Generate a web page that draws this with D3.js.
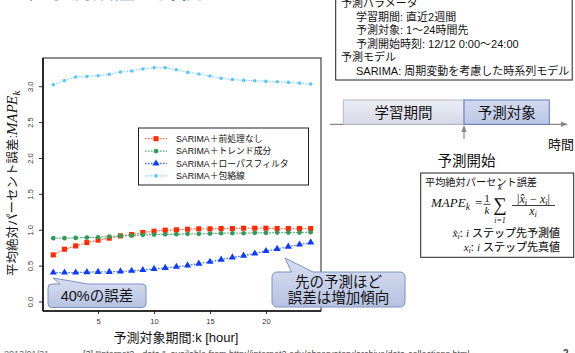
<!DOCTYPE html>
<html>
<head>
<meta charset="utf-8">
<script src="https://cdn.jsdelivr.net/npm/d3@7"></script>
<style>
  html, body { margin: 0; padding: 0; background: #fff; overflow: hidden; }
  svg { display: block; font-family: "Liberation Sans", "Noto Sans CJK JP", sans-serif; }
</style>
</head>
<body>
<svg id="chart" width="575" height="353"></svg>
<script>
// Forecast horizon (hours ahead)
const hours = [1,2,3,4,5,6,7,8,9,10,11,12,13,14,15,16,17,18,19,20,21,22,23,24];

// MAPE_k for each model variant
const noPreprocess = [0.656,0.735,0.781,0.827,0.861,0.889,0.921,0.939,0.967,0.986,1.000,1.005,1.014,1.019,1.019,1.023,1.023,1.028,1.028,1.028,1.023,1.023,1.023,1.023];
const trendComp    = [0.889,0.889,0.893,0.897,0.902,0.911,0.921,0.925,0.935,0.939,0.944,0.944,0.949,0.949,0.953,0.958,0.958,0.958,0.963,0.963,0.967,0.967,0.967,0.972];
const lowPass      = [0.410,0.410,0.410,0.415,0.420,0.420,0.425,0.435,0.445,0.460,0.475,0.490,0.510,0.535,0.560,0.590,0.620,0.645,0.675,0.710,0.740,0.770,0.800,0.830];
const envelope     = [3.028,3.085,3.135,3.143,3.153,3.172,3.205,3.220,3.247,3.265,3.265,3.237,3.200,3.177,3.148,3.118,3.100,3.088,3.083,3.074,3.070,3.060,3.050,3.037];

const seriesNames = ["SARIMA＋前処理なし","SARIMA＋トレンド成分","SARIMA＋ローパスフィルタ","SARIMA＋包絡線"];
const xTicks = [5,10,15,20];
const yTicks = [0.0,0.5,1.0,1.5,2.0,2.5,3.0];

const paramLines = [
  {t:"予測パラメータ", indent:0},
  {t:"学習期間: 直近2週間", indent:1},
  {t:"予測対象: 1〜24時間先", indent:1},
  {t:"予測開始時刻: 12/12 0:00〜24:00", indent:1},
  {t:"予測モデル", indent:0},
  {t:"SARIMA: 周期変動を考慮した時系列モデル", indent:1}
];

const svg = d3.select("#chart");
const defs = svg.append("defs");

const bubbleGrad = defs.append("linearGradient").attr("id","bubbleGrad").attr("x1",0).attr("y1",0).attr("x2",0).attr("y2",1);
bubbleGrad.append("stop").attr("offset","0%").attr("stop-color","#d9dff1");
bubbleGrad.append("stop").attr("offset","100%").attr("stop-color","#b7c2e2");

const learnGrad = defs.append("linearGradient").attr("id","learnGrad").attr("x1",0).attr("y1",0).attr("x2",0).attr("y2",1);
learnGrad.append("stop").attr("offset","0%").attr("stop-color","#eceef5");
learnGrad.append("stop").attr("offset","100%").attr("stop-color","#d6d9e6");

const predGrad = defs.append("linearGradient").attr("id","predGrad").attr("x1",0).attr("y1",0).attr("x2",0).attr("y2",1);
predGrad.append("stop").attr("offset","0%").attr("stop-color","#d3daf0");
predGrad.append("stop").attr("offset","100%").attr("stop-color","#bcc7e6");

defs.append("marker").attr("id","arrowHead").attr("viewBox","0 0 10 10").attr("refX",9).attr("refY",5)
  .attr("markerWidth",6).attr("markerHeight",6).attr("orient","auto-start-reverse")
  .append("path").attr("d","M0,1 L10,5 L0,9 z").attr("fill","#8a8a8a");

// ---- slide title (mostly above the visible area) ----
svg.append("text").attr("x",20).attr("y",-2).attr("font-size",22).attr("fill","#3f5cae")
  .attr("font-weight","bold").text("◆ 予測誤差の評価");

// ---- plot ----
const L = 43, R = 321, T = 58, B = 311;
const x = d3.scaleLinear().domain([0.08, 24.92]).range([L, R]);
const y = d3.scaleLinear().domain([-0.126, 3.40]).range([B, T]);

const series = [
  {name: seriesNames[0], values: noPreprocess, color:"#ff2a00", line:"#ff6a50", symbol:d3.symbolSquare,   size:26},
  {name: seriesNames[1], values: trendComp,    color:"#2f9a5a", line:"#4fae76", symbol:d3.symbolCircle,   size:17},
  {name: seriesNames[2], values: lowPass,      color:"#0a3cff", line:"#4a70ff", symbol:d3.symbolTriangle, size:22},
  {name: seriesNames[3], values: envelope,     color:"#5cc6ff", line:"#8ad6ff", symbol:d3.symbolCircle,   size:10}
];

const plot = svg.append("g");

// axes
const xAxis = d3.axisBottom(x).tickValues(xTicks).tickSize(3).tickFormat(d3.format("d"));
const gx = plot.append("g").attr("transform",`translate(0,${B})`).call(xAxis);
gx.select(".domain").remove();
gx.selectAll("text").attr("font-size",7.5).attr("fill","#333").attr("dy","0.9em");
gx.selectAll("line").attr("stroke","#333");

const yAxis = d3.axisLeft(y).tickValues(yTicks).tickSize(4).tickFormat(d3.format(".1f"));
const gy = plot.append("g").attr("transform",`translate(${L},0)`).call(yAxis);
gy.select(".domain").remove();
gy.selectAll("line").attr("stroke","#333");
gy.selectAll("text").attr("font-size",7.5).attr("fill","#333")
  .attr("x",0).attr("dy",0)
  .attr("text-anchor","middle")
  .attr("transform", d => `translate(-10.5,${y(d)}) rotate(-90)`)
  .attr("y",0);
gy.selectAll(".tick").attr("transform",null);
gy.selectAll(".tick line").attr("transform", d => `translate(0,${y(d)})`);

// frame
plot.append("rect").attr("x",L).attr("y",T).attr("width",R-L).attr("height",B-T)
  .attr("fill","none").attr("stroke","#333").attr("stroke-width",1.1);
plot.append("line").attr("x1",L).attr("x2",L).attr("y1",T).attr("y2",B).attr("stroke","#111").attr("stroke-width",1.6);
plot.append("line").attr("x1",L).attr("x2",R).attr("y1",B).attr("y2",B).attr("stroke","#111").attr("stroke-width",1.6);

// series lines + markers
const lineGen = d3.line().x((d,i) => x(hours[i])).y(d => y(d));
series.forEach(s => {
  plot.append("path").attr("d", lineGen(s.values)).attr("fill","none")
    .attr("stroke", s.line).attr("stroke-width",1.3).attr("stroke-dasharray","1.6,1.4");
  plot.selectAll(null).data(s.values).enter().append("path")
    .attr("d", d3.symbol().type(s.symbol).size(s.size))
    .attr("transform",(d,i) => `translate(${x(hours[i])},${y(d)})`)
    .attr("fill", s.color);
});

// axis titles
svg.append("text").attr("x",176).attr("y",342).attr("text-anchor","middle").attr("font-size",13)
  .attr("fill","#111").text("予測対象期間:k [hour]");

const yt = svg.append("text").attr("transform","translate(17,183) rotate(-90)").attr("text-anchor","middle")
  .attr("font-size",12.5).attr("fill","#111");
yt.append("tspan").text("平均絶対パーセント誤差:");
yt.append("tspan").attr("font-family","'DejaVu Serif','Liberation Serif',serif").attr("font-style","italic").text("MAPE");
yt.append("tspan").attr("font-family","'DejaVu Serif','Liberation Serif',serif").attr("font-style","italic")
  .attr("font-size",9).attr("dy",3).text("k");

// legend
const lg = svg.append("g");
lg.append("rect").attr("x",138.5).attr("y",128).attr("width",170).attr("height",57)
  .attr("fill","#fff").attr("stroke","#222").attr("stroke-width",1);
series.forEach((s,i) => {
  const ly = 138.7 + i*12.4;
  lg.append("line").attr("x1",145).attr("x2",167).attr("y1",ly).attr("y2",ly)
    .attr("stroke", s.line).attr("stroke-width",1.3).attr("stroke-dasharray","1.6,1.4");
  lg.append("path").attr("d", d3.symbol().type(s.symbol).size(s.size)).attr("transform",`translate(156,${ly})`).attr("fill", s.color);
  lg.append("text").attr("x",176).attr("y",ly).attr("dy","0.35em").attr("font-size",8.8).attr("fill","#111").text(s.name);
});

// callout bubbles
function bubblePath(x0,y0,w,h,r,b1,b2,tx,ty){
  const p = d3.path();
  p.moveTo(x0+r,y0);
  p.lineTo(b1,y0); p.lineTo(tx,ty); p.lineTo(b2,y0);
  p.lineTo(x0+w-r,y0); p.arcTo(x0+w,y0,x0+w,y0+r,r);
  p.lineTo(x0+w,y0+h-r); p.arcTo(x0+w,y0+h,x0+w-r,y0+h,r);
  p.lineTo(x0+r,y0+h); p.arcTo(x0,y0+h,x0,y0+h-r,r);
  p.lineTo(x0,y0+r); p.arcTo(x0,y0,x0+r,y0,r);
  p.closePath();
  return p.toString();
}
svg.append("path").attr("d", bubblePath(48,284,98,23.5,4,60,88,53,278))
  .attr("fill","url(#bubbleGrad)").attr("stroke","#7d90c2").attr("stroke-width",1);
svg.append("text").attr("x",97).attr("y",296).attr("dy","0.36em").attr("text-anchor","middle")
  .attr("font-size",14.5).attr("fill","#111").text("40%の誤差");

svg.append("path").attr("d", bubblePath(272,272,133,35,5,291.5,313,285,258))
  .attr("fill","url(#bubbleGrad)").attr("stroke","#7d90c2").attr("stroke-width",1);
svg.append("text").attr("x",338.5).attr("y",281.5).attr("dy","0.36em").attr("text-anchor","middle")
  .attr("font-size",14.5).attr("fill","#111").text("先の予測ほど");
svg.append("text").attr("x",338.5).attr("y",298).attr("dy","0.36em").attr("text-anchor","middle")
  .attr("font-size",14.5).attr("fill","#111").text("誤差は増加傾向");

// ---- parameter box ----
svg.append("rect").attr("x",335.7).attr("y",-6).attr("width",236.5).attr("height",86)
  .attr("fill","#fff").attr("stroke","#222").attr("stroke-width",1);
paramLines.forEach((p,i) => {
  svg.append("text").attr("x", p.indent ? 356 : 341).attr("y", 3 + i*13.6).attr("dy","0.36em")
    .attr("font-size",11).attr("fill","#111").text(p.t);
});

// ---- timeline sketch ----
svg.append("line").attr("x1",330).attr("x2",567).attr("y1",124.3).attr("y2",124.3)
  .attr("stroke","#8a8a8a").attr("stroke-width",1.2).attr("marker-end","url(#arrowHead)");
svg.append("rect").attr("x",343.3).attr("y",100).attr("width",120.7).attr("height",24.3)
  .attr("fill","url(#learnGrad)").attr("stroke","#b3b8cc").attr("stroke-width",1);
svg.append("rect").attr("x",464).attr("y",100).attr("width",85.3).attr("height",24.3)
  .attr("fill","url(#predGrad)").attr("stroke","#5f7bbf").attr("stroke-width",1);
svg.append("text").attr("x",403.5).attr("y",112.5).attr("dy","0.36em").attr("text-anchor","middle")
  .attr("font-size",14.5).attr("fill","#111").text("学習期間");
svg.append("text").attr("x",506.7).attr("y",112.5).attr("dy","0.36em").attr("text-anchor","middle")
  .attr("font-size",14.5).attr("fill","#111").text("予測対象");
svg.append("line").attr("x1",464).attr("x2",464).attr("y1",139).attr("y2",126)
  .attr("stroke","#8a8a8a").attr("stroke-width",1.2).attr("marker-end","url(#arrowHead)");
svg.append("text").attr("x",574).attr("y",144).attr("dy","0.36em").attr("text-anchor","end")
  .attr("font-size",13).attr("fill","#111").text("時間");
svg.append("text").attr("x",466.5).attr("y",161).attr("dy","0.36em").attr("text-anchor","middle")
  .attr("font-size",14.5).attr("fill","#111").text("予測開始");

// ---- MAPE definition box ----
const serif = "'Liberation Serif','DejaVu Serif',serif";
svg.append("rect").attr("x",420.7).attr("y",173).attr("width",153).attr("height",84.3)
  .attr("fill","#fff").attr("stroke","#222").attr("stroke-width",1);
svg.append("text").attr("x",425).attr("y",182.7).attr("dy","0.36em").attr("font-size",10.2)
  .attr("fill","#111").text("平均絶対パーセント誤差");

const fm = svg.append("g").attr("font-family",serif).attr("fill","#111");
const mape = fm.append("text").attr("x",431).attr("y",207).attr("font-size",13).attr("font-style","italic");
mape.append("tspan").text("MAPE");
mape.append("tspan").attr("font-size",9.5).attr("dy",2.5).text("k");
fm.append("text").attr("x",475).attr("y",207).attr("font-size",13).text("=");
fm.append("text").attr("x",487).attr("y",201.5).attr("text-anchor","middle").attr("font-size",11).text("1");
fm.append("line").attr("x1",483.5).attr("x2",490.5).attr("y1",204.3).attr("y2",204.3).attr("stroke","#111").attr("stroke-width",0.8);
fm.append("text").attr("x",487).attr("y",213.5).attr("text-anchor","middle").attr("font-size",11).attr("font-style","italic").text("k");
fm.append("text").attr("x",500).attr("y",210.5).attr("text-anchor","middle").attr("font-size",19).text("∑");
fm.append("text").attr("x",500).attr("y",190).attr("text-anchor","middle").attr("font-size",8).attr("font-style","italic").text("k");
fm.append("text").attr("x",500).attr("y",222.5).attr("text-anchor","middle").attr("font-size",8).attr("font-style","italic").text("i=1");
const num = fm.append("text").attr("x",533.5).attr("y",202.5).attr("text-anchor","middle").attr("font-size",12);
num.append("tspan").text("|");
num.append("tspan").attr("font-style","italic").text("x̂");
num.append("tspan").attr("font-style","italic").attr("font-size",8.5).attr("dy",2).text("i");
num.append("tspan").attr("dy",-2).text(" − ");
num.append("tspan").attr("font-style","italic").text("x");
num.append("tspan").attr("font-style","italic").attr("font-size",8.5).attr("dy",2).text("i");
num.append("tspan").attr("dy",-2).text("|");
fm.append("line").attr("x1",512).attr("x2",555).attr("y1",205.5).attr("y2",205.5).attr("stroke","#111").attr("stroke-width",0.8);
const den = fm.append("text").attr("x",533).attr("y",214.5).attr("text-anchor","middle").attr("font-size",12);
den.append("tspan").attr("font-style","italic").text("x");
den.append("tspan").attr("font-style","italic").attr("font-size",8.5).attr("dy",2).text("i");

function defLine(yy, hat, label){
  const t = svg.append("text").attr("x",560).attr("y",yy).attr("dy","0.36em").attr("text-anchor","end")
    .attr("font-size",11).attr("fill","#111").attr("stroke","#111").attr("stroke-width",0.15);
  t.append("tspan").attr("font-family",serif).attr("font-style","italic").attr("stroke","none").text(hat ? "x̂" : "x");
  t.append("tspan").attr("font-family",serif).attr("font-style","italic").attr("stroke","none").attr("font-size",8).attr("dy",2).text("i");
  t.append("tspan").attr("dy",-2).text(": ");
  t.append("tspan").attr("font-family",serif).attr("font-style","italic").attr("stroke","none").text("i");
  t.append("tspan").text(" " + label);
}
defLine(233.3, true, "ステップ先予測値");
defLine(247.3, false, "ステップ先真値");

// ---- footer ----
svg.append("text").attr("x",4).attr("y",357).attr("font-size",9).attr("fill","#666").text("2013/01/31");
svg.append("text").attr("x",83).attr("y",357).attr("font-size",9).attr("fill","#444")
  .text("[3] \"Internet2 - data \", available from http://internet2.edu/observatory/archive/data-collections.html");
svg.append("text").attr("x",563).attr("y",357).attr("font-size",10).attr("fill","#444").attr("font-weight","bold").text("2");
</script>
</body>
</html>
